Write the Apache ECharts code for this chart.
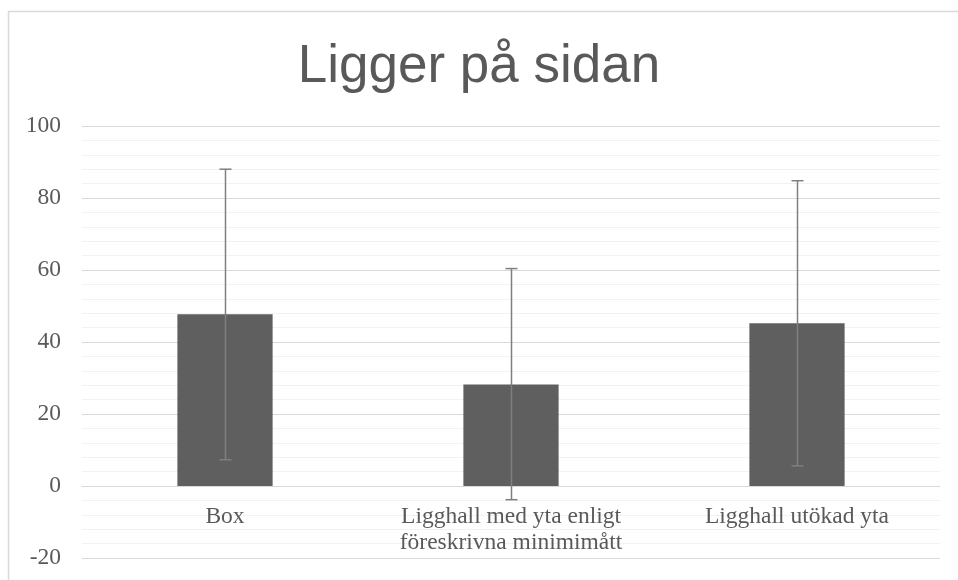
<!DOCTYPE html>
<html>
<head>
<meta charset="utf-8">
<script src="https://cdn.jsdelivr.net/npm/echarts@6/dist/echarts.min.js"></script>
<style>
html,body{margin:0;padding:0;background:#fff;}
#chart{width:958px;height:580px;}
</style>
</head>
<body>
<div id="chart"></div>
<script>
var title = 'Ligger på sidan';
var categories = ['Box', 'Ligghall med yta enligt\nföreskrivna minimimått', 'Ligghall utökad yta'];
var means = [47.7, 28.2, 45.2];
var errLow = [7.3, -3.8, 5.6];
var errHigh = [88.0, 60.4, 84.8];
var yTicks = [-20, 0, 20, 40, 60, 80, 100];

var errData = categories.map(function (c, i) { return [i, errLow[i], errHigh[i]]; });

var chart = echarts.init(document.getElementById('chart'), null, {renderer: 'canvas'});
chart.setOption({
  animation: false,
  backgroundColor: '#ffffff',
  graphic: [{
    type: 'rect', silent: true, z: -10,
    shape: {x: 8.5, y: 11.5, width: 980, height: 620},
    style: {fill: 'none', stroke: '#d9d9d9', lineWidth: 1.5}
  }],
  title: {
    text: title, left: 'center', top: 36,
    textStyle: {fontFamily: 'Liberation Sans, Arial, sans-serif', fontSize: 53, fontWeight: 'normal', color: '#595959'}
  },
  grid: {left: 82, right: 18, top: 126, bottom: 22, containLabel: false, outerBoundsMode: 'none'},
  xAxis: {
    type: 'category', data: categories, position: 'bottom', offset: -72,
    axisLine: {show: true, onZero: false, lineStyle: {color: '#d9d9d9', width: 1}},
    axisTick: {show: false},
    axisLabel: {interval: 0, margin: 18, color: '#595959', fontFamily: 'Liberation Serif, Times New Roman, serif', fontSize: 23.5, lineHeight: 26}
  },
  yAxis: {
    type: 'value', min: yTicks[0], max: yTicks[yTicks.length - 1], interval: 20,
    axisLine: {show: false}, axisTick: {show: false},
    axisLabel: {margin: 21, color: '#595959', fontFamily: 'Liberation Serif, Times New Roman, serif', fontSize: 23.5},
    splitLine: {show: true, lineStyle: {color: '#d9d9d9', width: 1}},
    minorTick: {show: false, splitNumber: 5},
    minorSplitLine: {show: true, lineStyle: {color: '#f2f2f2', width: 1}}
  },
  series: [{
    type: 'bar', data: means, barWidth: '33.3%',
    itemStyle: {color: '#5f5f5f'}, z: 2
  }, {
    type: 'custom', data: errData, z: 3,
    renderItem: function (params, api) {
      var x = api.value(0);
      var lo = api.coord([x, api.value(1)]);
      var hi = api.coord([x, api.value(2)]);
      var cx = Math.round(lo[0]) + 0.5;
      var hw = 6;
      var st = {stroke: '#7f7f7f', lineWidth: 1.5};
      return {
        type: 'group',
        children: [
          {type: 'line', shape: {x1: cx, y1: lo[1], x2: cx, y2: hi[1]}, style: st},
          {type: 'line', shape: {x1: cx - hw, y1: hi[1], x2: cx + hw, y2: hi[1]}, style: st},
          {type: 'line', shape: {x1: cx - hw, y1: lo[1], x2: cx + hw, y2: lo[1]}, style: st}
        ]
      };
    }
  }]
});
</script>
</body>
</html>
